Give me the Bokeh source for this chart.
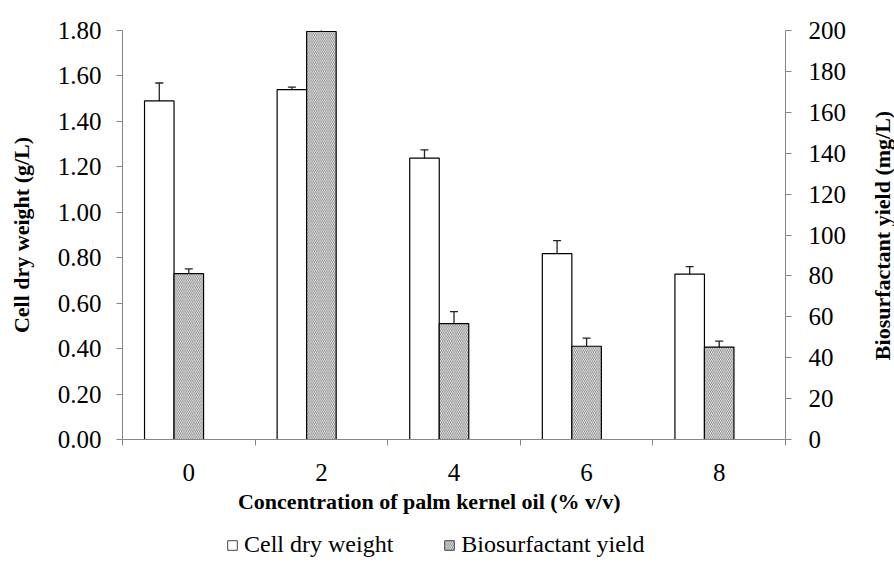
import math
from bokeh.plotting import figure
from bokeh.layouts import row, column
from bokeh.core.properties import value
from bokeh.models import (Range1d, LinearAxis, FixedTicker, ColumnDataSource, Whisker,
                          TeeHead, Legend, LegendItem, NumeralTickFormatter)
from bokeh.embed import file_html
from bokeh.resources import INLINE

categories = ["0", "2", "4", "6", "8"]
cell_dry_weight = [1.49, 1.54, 1.238, 0.818, 0.728]
cell_err = [0.079, 0.011, 0.037, 0.057, 0.033]
bio_yield = [81.1, 199.5, 56.7, 45.6, 45.2]
bio_err = [2.3, 10.0, 5.8, 4.0, 2.9]
series_names = ["Cell dry weight", "Biosurfactant yield"]
x_title = "Concentration of palm kernel oil (% v/v)"
y_title = "Cell dry weight (g/L)"
y2_title = "Biosurfactant yield (mg/L)"

FONT = "Liberation Serif"
AX = "#868686"
HATCH = dict(hatch_pattern="\\", hatch_scale=3.6, hatch_weight=0.9, hatch_color="#6e6e6e")

n = len(categories)
centers = [i + 0.5 for i in range(n)]
bw = 0.2226
x_cell = [c - bw for c in centers]
x_bio = centers

src_c = ColumnDataSource(dict(x=x_cell, top=cell_dry_weight,
                              up=[v + e for v, e in zip(cell_dry_weight, cell_err)],
                              lo=[v - e for v, e in zip(cell_dry_weight, cell_err)]))
src_b = ColumnDataSource(dict(x=x_bio, top=bio_yield,
                              up=[v + e for v, e in zip(bio_yield, bio_err)],
                              lo=[v - e for v, e in zip(bio_yield, bio_err)]))

# ---------------- main chart ----------------
p = figure(frame_width=663, frame_height=409, output_backend="svg", toolbar_location=None,
           x_range=Range1d(0, n), y_range=Range1d(0, 1.8),
           min_border_left=122, min_border_right=83, min_border_top=30, min_border_bottom=82,
           x_axis_location=None, y_axis_location=None)
p.extra_y_ranges = {"bio": Range1d(0, 200)}
p.grid.visible = False
p.outline_line_color = None
p.background_fill_color = "white"
p.border_fill_color = "white"

xa = LinearAxis(ticker=FixedTicker(ticks=centers, minor_ticks=list(range(n + 1))),
                major_label_overrides={c: lab for c, lab in zip(centers, categories)},
                axis_label=x_title + "\u00a0" * 9)
xa.major_tick_out = 0
xa.major_tick_in = 0
xa.minor_tick_out = 6
xa.minor_tick_in = 0
xa.major_label_standoff = 18
xa.axis_label_standoff = 5
p.add_layout(xa, "below")

ya = LinearAxis(ticker=FixedTicker(ticks=[0, 0.2, 0.4, 0.6, 0.8, 1.0, 1.2, 1.4, 1.6, 1.8]),
                formatter=NumeralTickFormatter(format="0.00"),
                axis_label=y_title)
ya.major_label_standoff = 15
ya.axis_label_standoff = 21
p.add_layout(ya, "left")

ra = LinearAxis(y_range_name="bio", ticker=FixedTicker(ticks=list(range(0, 201, 20))))
ra.major_label_standoff = 17
p.add_layout(ra, "right")

for ax in (xa, ya, ra):
    ax.axis_line_color = AX
    ax.axis_line_width = 1
    ax.major_tick_line_color = AX
    ax.minor_tick_line_color = AX
    ax.major_label_text_font = FONT
    ax.major_label_text_font_size = "25px"
    ax.major_label_text_color = "black"
    ax.axis_label_text_font = FONT
    ax.axis_label_text_font_size = "22px"
    ax.axis_label_text_font_style = "bold"
    ax.axis_label_text_color = "black"
for ax in (ya, ra):
    ax.major_tick_out = 6
    ax.major_tick_in = 0
    ax.minor_tick_out = 0
    ax.minor_tick_in = 0

p.vbar(x="x", top="top", width=bw, bottom=0, source=src_c,
       fill_color="white", line_color="black", line_width=1.2)
p.vbar(x="x", top="top", width=bw, bottom=0, source=src_b, y_range_name="bio",
       fill_color="white", line_color="black", line_width=1.2, **HATCH)

for src, rng in ((src_c, "default"), (src_b, "bio")):
    w = Whisker(base="x", upper="up", lower="lo", source=src, y_range_name=rng,
                line_color="#222", line_width=1.3,
                upper_head=TeeHead(size=8, line_color="#222", line_width=1.3),
                lower_head=TeeHead(size=8, line_color="#222", line_width=1.3))
    p.add_layout(w)

# ---------------- legend strip (its bar renderers are hidden) ----------------
pl = figure(width=866, height=57, output_backend="svg", toolbar_location=None,
            x_range=Range1d(100, 101), y_range=Range1d(500, 501), min_border=0,
            x_axis_location=None, y_axis_location=None)
pl.grid.visible = False
pl.outline_line_color = None
pl.border_fill_color = "white"
g1 = pl.vbar(x="x", top="top", width=bw, source=src_c,
             fill_color="white", line_color="#444", line_width=1)
g2 = pl.vbar(x="x", top="top", width=bw, source=src_b,
             fill_color="white", line_color="#444", line_width=1, **HATCH)
g1.visible = False
g2.visible = False
legend = Legend(items=[LegendItem(label=series_names[0], renderers=[g1], index=0),
                       LegendItem(label=series_names[1], renderers=[g2], index=0)],
                orientation="horizontal", location=(104, 20),
                label_text_font=FONT, label_text_font_size="24px", label_text_color="black",
                glyph_width=12, glyph_height=12, spacing=50, label_standoff=6,
                border_line_color=None, background_fill_alpha=0, padding=0, margin=0,
                inactive_fill_alpha=0)
pl.add_layout(legend)

# ---------------- right axis title strip ----------------
pt = figure(width=28, height=578, output_backend="svg", toolbar_location=None,
            x_range=Range1d(0, 28), y_range=Range1d(0, 578), min_border=0,
            x_axis_location=None, y_axis_location=None)
pt.grid.visible = False
pt.outline_line_color = None
pt.border_fill_color = "white"
pt.text(x=[14], y=[578 - 235], text=[y2_title], angle=math.pi / 2,
        text_align="center", text_baseline="middle",
        text_font=value(FONT), text_font_size="22px", text_font_style="bold", text_color="black")

layout = row(column(p, pl), pt)
open("out.html", "w").write(file_html(layout, INLINE))
